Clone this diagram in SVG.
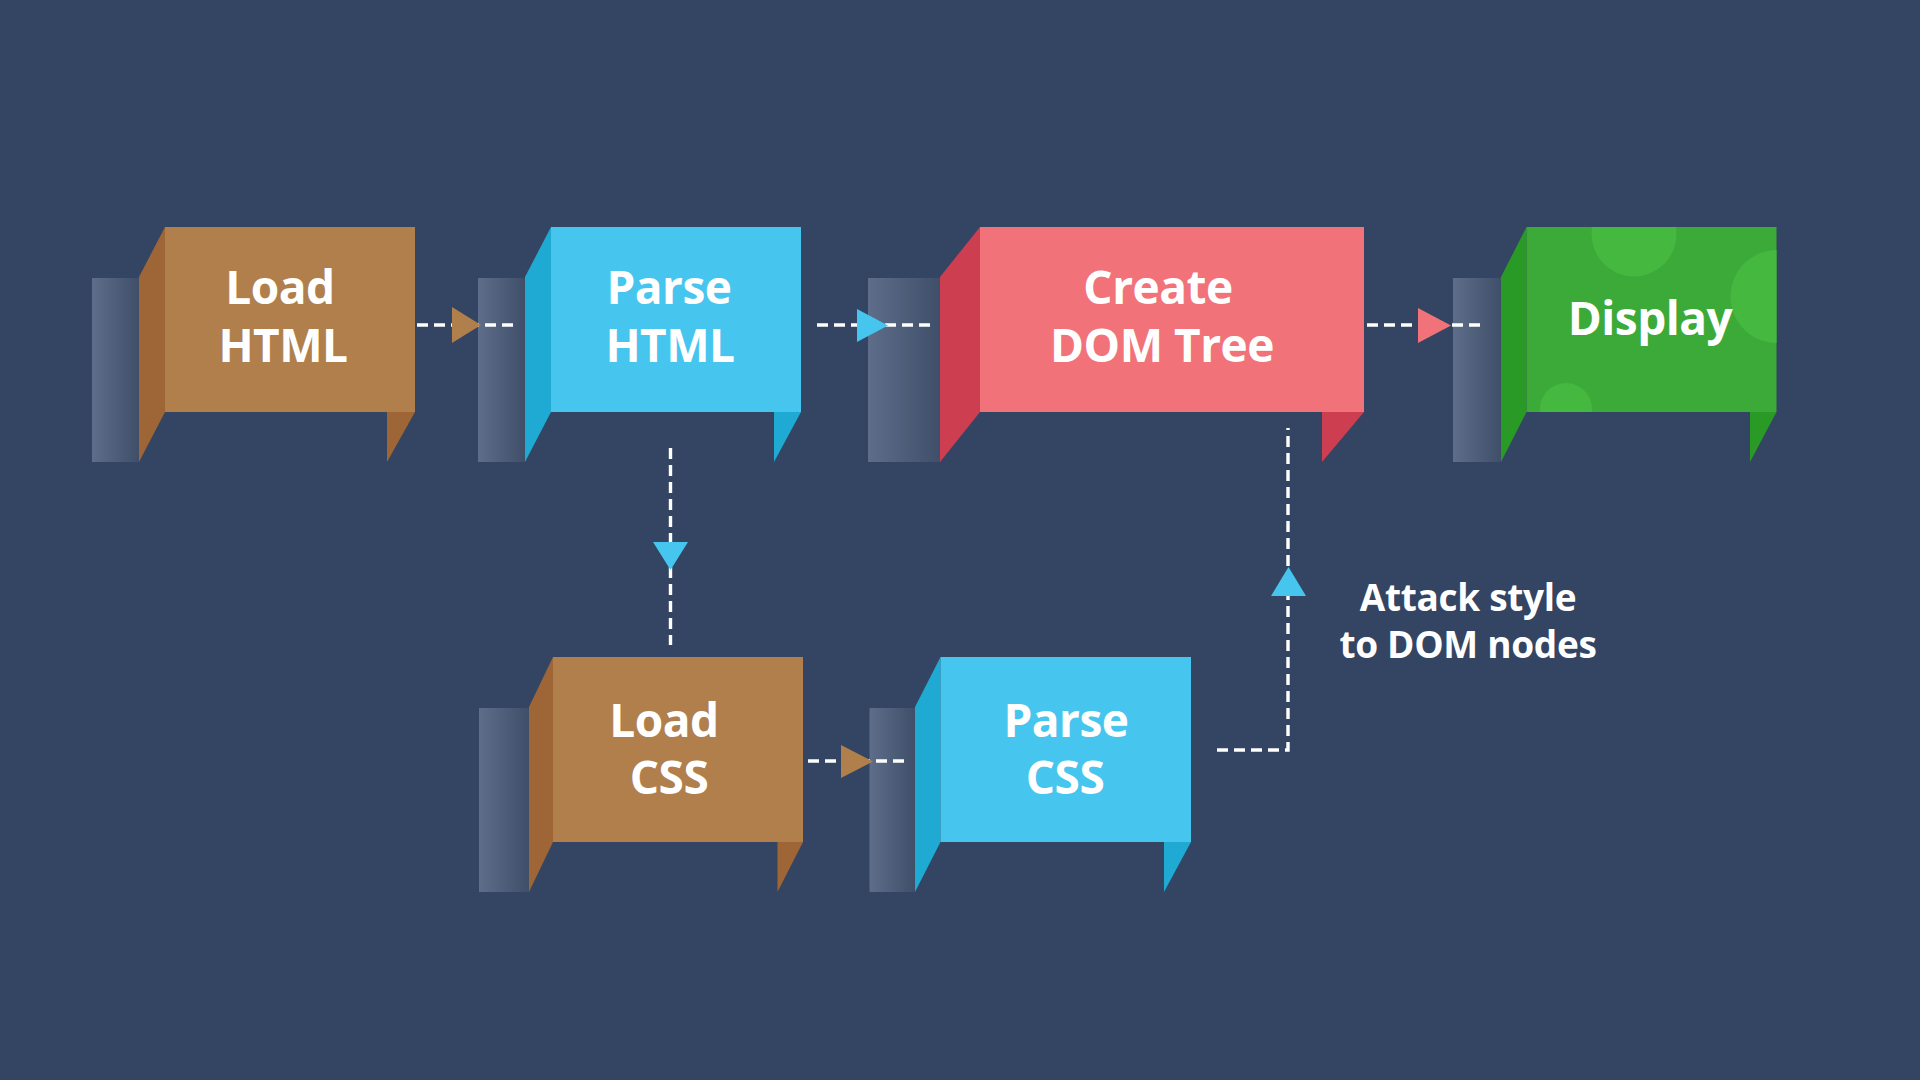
<svg xmlns="http://www.w3.org/2000/svg" width="1920" height="1080" viewBox="0 0 1920 1080">
  <defs>
    <linearGradient id="bar" x1="0" y1="0" x2="1" y2="0">
      <stop offset="0" stop-color="#5e6e8a"/>
      <stop offset="1" stop-color="#3f4e69"/>
    </linearGradient>
    <clipPath id="greenClip">
      <rect x="1526.5" y="227" width="250" height="185"/>
    </clipPath>
    <style>
      .bar { fill: url(#bar); }
      .lbl { font-family: "Open Sans", "Liberation Sans", sans-serif; font-weight: 700; font-size: 46px; fill: #ffffff; text-anchor: middle; letter-spacing: -0.5px; }
      .note { font-family: "Open Sans", "Liberation Sans", sans-serif; font-weight: 700; font-size: 37px; fill: #ffffff; text-anchor: middle; letter-spacing: -0.3px; }
      .brown-f { fill: #b07f4c; } .brown-s { fill: #9e6536; }
      .blue-f { fill: #46c5ee; } .blue-s { fill: #1eaad3; }
      .red-f { fill: #f17379; } .red-s { fill: #cd3e51; }
      .green-f { fill: #3caa39; } .green-s { fill: #2a9a26; } .green-c { fill: #45b83f; }
      .dash { fill: none; stroke: #ffffff; stroke-width: 3.4; stroke-dasharray: 11 6; }
    </style>
  </defs>

  <rect x="0" y="0" width="1920" height="1080" fill="#334562"/>

  <g id="load-html">
    <rect class="bar" x="92" y="278" width="47" height="184"/>
    <polygon class="brown-s" points="139,277 165,227 165,412 139,462"/>
    <rect class="brown-f" x="165" y="227" width="250" height="185"/>
    <polygon class="brown-s" points="387,412 415,412 387,462"/>
    <text class="lbl" x="280" y="304">Load</text>
    <text class="lbl" x="283" y="362">HTML</text>
  </g>

  <g id="parse-html">
    <rect class="bar" x="478" y="278" width="47" height="184"/>
    <polygon class="blue-s" points="525,277 551,227 551,412 525,462"/>
    <rect class="blue-f" x="551" y="227" width="250" height="185"/>
    <polygon class="blue-s" points="774,412 801,412 774,462"/>
    <text class="lbl" x="669" y="304">Parse</text>
    <text class="lbl" x="670" y="362">HTML</text>
  </g>

  <g id="create-dom-tree">
    <rect class="bar" x="868" y="278" width="72" height="184"/>
    <polygon class="red-s" points="940,277 980,227 980,412 940,462"/>
    <rect class="red-f" x="980" y="227" width="384" height="185"/>
    <polygon class="red-s" points="1322,412 1364,412 1322,462"/>
    <text class="lbl" x="1158" y="304">Create</text>
    <text class="lbl" x="1162" y="362">DOM Tree</text>
  </g>

  <g id="display">
    <rect class="bar" x="1453" y="278" width="48" height="184"/>
    <polygon class="green-s" points="1501,277 1526.5,227 1526.5,412 1501,462"/>
    <rect class="green-f" x="1526.5" y="227" width="250" height="185"/>
    <g clip-path="url(#greenClip)">
      <circle class="green-c" cx="1634" cy="234" r="42.5"/>
      <circle class="green-c" cx="1777" cy="296.5" r="46.5"/>
      <circle class="green-c" cx="1566" cy="409" r="26"/>
    </g>
    <polygon class="green-s" points="1750,412 1776.5,412 1750,462"/>
    <text class="lbl" x="1650" y="335">Display</text>
  </g>

  <g id="load-css">
    <rect class="bar" x="479" y="708" width="50" height="184"/>
    <polygon class="brown-s" points="529,707 553,657 553,842 529,892"/>
    <rect class="brown-f" x="553" y="657" width="250" height="185"/>
    <polygon class="brown-s" points="777.5,842 803,842 777.5,892"/>
    <text class="lbl" x="664" y="737">Load</text>
    <text class="lbl" x="669" y="794">CSS</text>
  </g>

  <g id="parse-css">
    <rect class="bar" x="869.5" y="708" width="45.5" height="184"/>
    <polygon class="blue-s" points="915,707 940.5,657 940.5,842 915,892"/>
    <rect class="blue-f" x="940.5" y="657" width="250.5" height="185"/>
    <polygon class="blue-s" points="1164,842 1191,842 1164,892"/>
    <text class="lbl" x="1066" y="737">Parse</text>
    <text class="lbl" x="1065" y="794">CSS</text>
  </g>

  <g id="attach-label">
    <text class="note" x="1468" y="611">Attack style</text>
    <text class="note" x="1468" y="658">to DOM nodes</text>
  </g>

  <g id="connectors">
    <line class="dash" x1="417" y1="325" x2="517" y2="325"/>
    <polygon class="brown-f" points="452,307 452,343 481,325"/>

    <line class="dash" x1="817" y1="325" x2="930" y2="325"/>
    <polygon class="blue-f" points="857,309 857,342 888,325.5"/>

    <line class="dash" x1="1367" y1="325" x2="1482" y2="325"/>
    <polygon class="red-f" points="1418,308 1418,343 1451,325.5"/>

    <line class="dash" x1="670.5" y1="448" x2="670.5" y2="645"/>
    <polygon class="blue-f" points="653,542 688,542 670.5,570"/>

    <line class="dash" x1="808" y1="761" x2="908" y2="761"/>
    <polygon class="brown-f" points="841,745 841,778 873,761.5"/>

    <polyline class="dash" points="1217,750 1288,750 1288,428"/>
    <polygon class="blue-f" points="1271,596 1306,596 1288.5,567"/>
  </g>
</svg>
